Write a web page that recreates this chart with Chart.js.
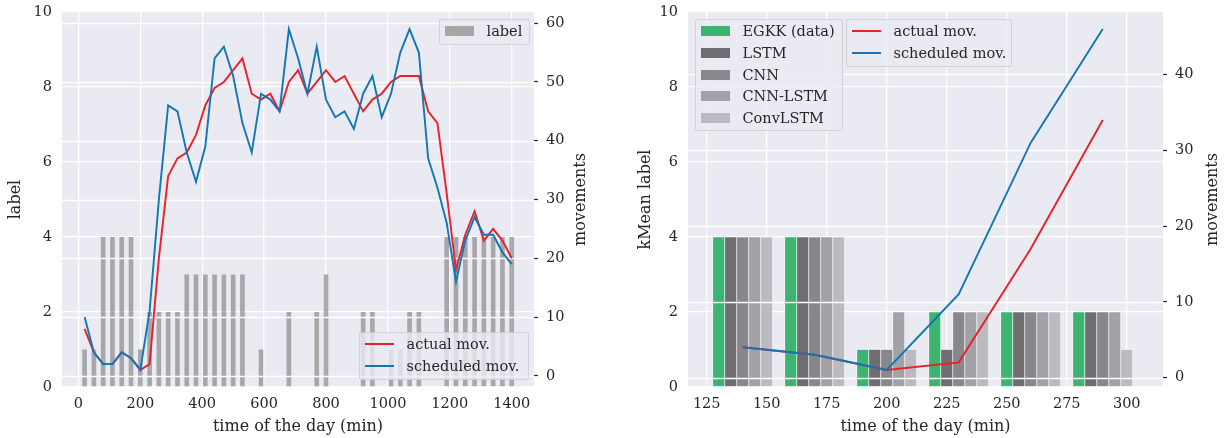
<!DOCTYPE html>
<html>
<head>
<meta charset="utf-8">
<script src="https://cdn.jsdelivr.net/npm/chart.js@4.4.1/dist/chart.umd.min.js"></script>
<style>
html,body{margin:0;padding:0;background:#ffffff;}
#wrap{position:relative;width:1225px;height:438px;overflow:hidden;font-family:'DejaVu Serif',serif;color:#262626;}
#wrap canvas{position:absolute;top:0;}
.lg{position:absolute;box-sizing:border-box;background:rgba(234,234,242,0.8);border:1px solid rgba(204,204,204,0.8);border-radius:3px;}
.hl{position:absolute;height:2px;}
.hb{position:absolute;}
.tx{position:absolute;white-space:nowrap;font-size:14.5px;line-height:17px;transform:translateY(-50%);}
</style>
</head>
<body>
<div id="wrap">
  <canvas id="cA" width="600" height="438" style="left:0;width:600px;height:438px"></canvas>
  <canvas id="cB" width="613" height="438" style="left:612px;width:613px;height:438px"></canvas>
</div>
<script>
// ---------- data: left panel ----------
const timeA = [20,50,80,110,140,170,200,230,260,290,320,350,380,410,440,470,500,530,560,590,620,650,680,710,740,770,800,830,860,890,920,950,980,1010,1040,1070,1100,1130,1160,1190,1220,1250,1280,1310,1340,1370,1400];
const labelA = [1,1,4,4,4,4,1,2,2,2,2,3,3,3,3,3,3,3,0,1,0,0,2,0,0,2,3,0,0,0,2,2,0,1,1,2,2,0,0,4,4,4,4,4,4,4,4];
const actualA = [8,4,2,2,4,3,1,2,20,34,37,38,41,46,49,50,52,54,48,47,48,45,50,52,48,50,52,50,51,48,45,47,48,50,51,51,51,45,43,31,18,24,28,23,25,23,20];
const schedA = [10,4,2,2,4,3,1,11,30,46,45,38,33,39,54,56,51,43,38,48,47,45,59,54,48,56,47,44,45,42,48,51,44,48,55,59,55,37,32,26,16,23,27,24,24,21,19];
const xTicksA = [0,200,400,600,800,1000,1200,1400];
const yTicksA = [0,2,4,6,8,10];
const y2TicksA = [0,10,20,30,40,50,60];

// ---------- data: right panel ----------
const timeB = [140,170,200,230,260,290];
const modelNames = ['EGKK (data)','LSTM','CNN','CNN-LSTM','ConvLSTM'];
const egkkB = [4,4,1,2,2,2];
const lstmB = [4,4,1,1,2,2];
const cnnB = [4,4,1,2,2,2];
const cnnLstmB = [4,4,2,2,2,2];
const convLstmB = [4,4,1,2,2,1];
const actualB = [4,3,1,2,17,34];
const schedB = [4,3,1,11,31,46];
const xTicksB = [125,150,175,200,225,250,275,300];
const yTicksB = [0,2,4,6,8,10];
const y2TicksB = [0,10,20,30,40];

// ---------- styling ----------
const FONT = "'DejaVu Serif', serif";
const TXT = '#262626';
const RED = '#e8202a';
const BLUE = '#1276b5';
const GREYBAR = 'rgba(121,121,122,0.6)';
const modelColors = ['rgba(41,173,99,0.9)','rgba(96,96,100,0.9)','rgba(125,125,129,0.9)','rgba(153,153,158,0.9)','rgba(181,181,186,0.9)'];

const pts = (xs, ys) => xs.map((x, i) => ({x: x, y: ys[i]}));
const fixTicks = vals => s => { s.ticks = vals.map(v => ({value: v})); };

const bgPlugin = {
  id: 'bgArea',
  beforeDraw(chart) {
    const a = chart.chartArea, c = chart.ctx;
    c.save(); c.fillStyle = '#eaeaf2'; c.fillRect(a.left, a.top, a.right - a.left, a.bottom - a.top); c.restore();
  }
};
// twin-axis grid: drawn above the bars, below the lines
const twinGridPlugin = {
  id: 'twinGrid',
  beforeDatasetsDraw(chart) { chart.$twinDone = false; },
  beforeDatasetDraw(chart, args) {
    if (chart.$twinDone || args.meta.type !== 'line') return;
    chart.$twinDone = true;
    const s = chart.scales.y2, a = chart.chartArea, c = chart.ctx;
    c.save(); c.strokeStyle = '#ffffff'; c.lineWidth = 1.3;
    s.ticks.forEach(t => {
      const y = Math.round(s.getPixelForValue(t.value)) + 0.5;
      if (y < a.top - 1 || y > a.bottom + 1) return;
      c.beginPath(); c.moveTo(a.left, y); c.lineTo(a.right, y); c.stroke();
    });
    c.restore();
  }
};
const rightTitlePlugin = {
  id: 'rightTitle',
  afterDraw(chart, args, opts) {
    const a = chart.chartArea, c = chart.ctx;
    c.save();
    c.translate(opts.x, (a.top + a.bottom) / 2);
    c.rotate(-Math.PI / 2);
    c.fillStyle = TXT; c.font = '16px ' + FONT; c.textAlign = 'center'; c.textBaseline = 'middle';
    c.fillText(opts.text, 0, 0);
    c.restore();
  }
};

function axes(cfg) {
  const grid = {color: '#ffffff', lineWidth: 1.3, drawTicks: false, offset: false};
  const tickFont = {family: FONT, size: 14.5};
  return {
    x: {type: 'linear', min: cfg.xmin, max: cfg.xmax, offset: false,
        afterBuildTicks: fixTicks(cfg.xticks),
        afterFit: s => { s.height = 51; s.paddingLeft = 0; s.paddingRight = 0; },
        grid: grid, border: {display: false},
        ticks: {font: tickFont, color: TXT, padding: 9, maxRotation: 0, autoSkip: false, callback: v => String(v)},
        title: {display: true, text: 'time of the day (min)', font: {family: FONT, size: 16}, color: TXT, padding: {top: 0, bottom: 2}}},
    y: {type: 'linear', position: 'left', min: 0, max: 10,
        afterBuildTicks: fixTicks(cfg.yticks),
        afterFit: s => { s.width = cfg.yw; s.paddingTop = 0; s.paddingBottom = 0; },
        grid: grid, border: {display: false},
        ticks: {font: tickFont, color: TXT, padding: 10, callback: v => String(v)},
        title: {display: true, text: cfg.ytitle, font: {family: FONT, size: 16}, color: TXT, padding: {top: cfg.ytp, bottom: 0}}},
    y2: {type: 'linear', position: 'right', min: cfg.y2min, max: cfg.y2max,
        afterBuildTicks: fixTicks(cfg.y2ticks),
        afterFit: s => { s.width = cfg.y2w; s.paddingTop = 0; s.paddingBottom = 0; },
        grid: {display: true, drawOnChartArea: false, drawTicks: true, tickLength: 4, tickColor: TXT, tickWidth: 1.2},
        border: {display: false},
        ticks: {font: tickFont, color: TXT, padding: 8, callback: v => String(v)}}
  };
}
const baseOpts = {
  responsive: false, animation: false, devicePixelRatio: 1,
  layout: {padding: {top: 12, left: 0, right: 0, bottom: 0}},
  events: []
};

// ---------- left chart ----------
new Chart(document.getElementById('cA'), {
  type: 'bar',
  data: {datasets: [
    {type: 'line', label: 'scheduled mov.', data: pts(timeA, schedA), borderColor: BLUE, borderWidth: 1.9, pointRadius: 0, tension: 0, fill: false, yAxisID: 'y2', order: 0},
    {type: 'line', label: 'actual mov.', data: pts(timeA, actualA), borderColor: RED, borderWidth: 1.9, pointRadius: 0, tension: 0, fill: false, yAxisID: 'y2', order: 1},
    {type: 'bar', label: 'label', data: pts(timeA, labelA), backgroundColor: GREYBAR, borderWidth: 0, barPercentage: 0.5, categoryPercentage: 1.0, yAxisID: 'y', order: 2}
  ]},
  options: Object.assign({}, baseOpts, {
    scales: axes({xmin: -53, xmax: 1472, xticks: xTicksA, yticks: yTicksA, yw: 62, ytitle: 'label', ytp: 6.4,
                  y2min: -1.9, y2max: 61.9, y2ticks: y2TicksA, y2w: 66}),
    plugins: {legend: {display: false}, tooltip: {enabled: false}, rightTitle: {text: 'movements', x: 581}}
  }),
  plugins: [bgPlugin, twinGridPlugin, rightTitlePlugin]
});

// ---------- right chart ----------
const modelSeries = [egkkB, lstmB, cnnB, cnnLstmB, convLstmB];
const dsB = [
  {type: 'line', label: 'scheduled mov.', data: pts(timeB, schedB), borderColor: BLUE, borderWidth: 1.9, pointRadius: 0, tension: 0, fill: false, yAxisID: 'y2', order: 0},
  {type: 'line', label: 'actual mov.', data: pts(timeB, actualB), borderColor: RED, borderWidth: 1.9, pointRadius: 0, tension: 0, fill: false, yAxisID: 'y2', order: 1}
];
modelSeries.forEach((vals, i) => dsB.push({
  type: 'bar', label: modelNames[i], data: pts(timeB, vals), backgroundColor: modelColors[i],
  borderColor: '#ffffff', borderWidth: 0.7, borderSkipped: 'start', barThickness: 12, yAxisID: 'y', order: 2
}));
new Chart(document.getElementById('cB'), {
  type: 'bar',
  data: {datasets: dsB},
  options: Object.assign({}, baseOpts, {
    scales: axes({xmin: 117.2, xmax: 315.1, xticks: xTicksB, yticks: yTicksB, yw: 76, ytitle: 'kMean label', ytp: 24.4,
                  y2min: -1.25, y2max: 48.25, y2ticks: y2TicksB, y2w: 62}),
    plugins: {legend: {display: false}, tooltip: {enabled: false}, rightTitle: {text: 'movements', x: 601}}
  }),
  plugins: [bgPlugin, twinGridPlugin, rightTitlePlugin]
});

// ---------- legends (HTML text) ----------
function legend(box, items) {
  const d = document.createElement('div');
  d.className = 'lg';
  Object.assign(d.style, {left: box[0] + 'px', top: box[1] + 'px', width: box[2] + 'px', height: box[3] + 'px'});
  items.forEach((it, i) => {
    const cy = 11.3 + 21.7 * i;
    const h = document.createElement('div');
    if (it.kind === 'line') {
      h.className = 'hl';
      Object.assign(h.style, {left: '5px', width: '29px', top: (cy - 1) + 'px', background: it.color});
    } else {
      h.className = 'hb';
      Object.assign(h.style, {left: '5px', width: '29px', top: (cy - 5) + 'px', height: '10px', background: it.color});
    }
    d.appendChild(h);
    const t = document.createElement('div');
    t.className = 'tx';
    t.textContent = it.label;
    Object.assign(t.style, {left: '46.5px', top: cy + 'px'});
    d.appendChild(t);
  });
  document.getElementById('wrap').appendChild(d);
}
legend([439, 19, 91, 26], [{kind: 'box', color: GREYBAR, label: 'label'}]);
legend([359, 332, 170, 48], [{kind: 'line', color: RED, label: 'actual mov.'}, {kind: 'line', color: BLUE, label: 'scheduled mov.'}]);
legend([695, 19, 148, 112], modelNames.map((n, i) => ({kind: 'box', color: modelColors[i], label: n})));
legend([846, 19, 166, 48], [{kind: 'line', color: RED, label: 'actual mov.'}, {kind: 'line', color: BLUE, label: 'scheduled mov.'}]);
</script>
</body>
</html>
